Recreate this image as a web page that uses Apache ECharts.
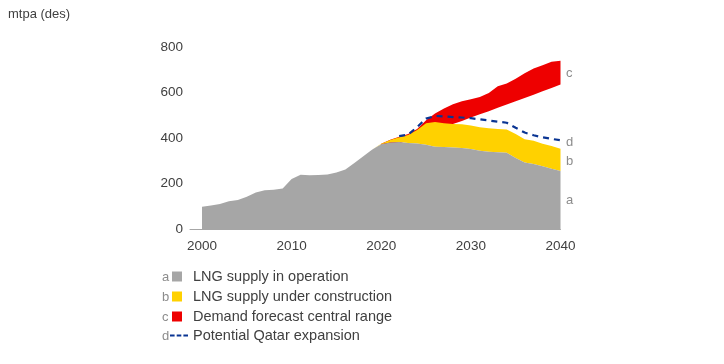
<!DOCTYPE html>
<html>
<head>
<meta charset="utf-8">
<script src="https://cdn.jsdelivr.net/npm/echarts@6/dist/echarts.min.js"></script>
<style>html,body{margin:0;padding:0;background:#fff;}#c{width:724px;height:364px;}</style>
</head>
<body>
<div id="c"></div>
<script>
// ---- data ----
var years = [];
for (var yr = 2000; yr <= 2040; yr++) years.push(yr);

// LNG supply in operation (2000..2040)
var supplyOperation = [98,103,110,122,127,142,160,170,172,178,
                       220,238,236,237,240,248,262,290,320,350,
                       372,380,382,378,376,370,362,360,358,356,
                       352,344,340,337,335,312,292,286,276,265,255];
// LNG supply under construction (increment on top of operation, 2019..2040)
var constructionYears = [2019,2020,2021,2022,2023,2024,2025,2026,2027,2028,2029,
                         2030,2031,2032,2033,2034,2035,2036,2037,2038,2039,2040];
var supplyConstruction = [0,3,11,21,35,59,95,108,105,103,104,
                          103,103,103,103,102,106,102,102,99,100,98];
// Demand forecast central range (2020..2040)
var demandYears = [2020,2021,2022,2023,2024,2025,2026,2027,2028,2029,2030,
                   2031,2032,2033,2034,2035,2036,2037,2038,2039,2040];
var demandLow  = [350,362,376,390,405,418,432,446,461,475,490,
                  504,518,533,547,562,576,590,605,620,635];
var demandHigh = [375,392,405,418,440,478,508,530,548,562,570,
                  580,598,628,640,660,685,705,720,735,740];
// Potential Qatar expansion (2022..2040)
var qatarYears = [2022,2023,2024,2025,2026,2027,2028,2029,2030,2031,
                  2032,2033,2034,2035,2036,2037,2038,2039,2040];
var qatar = [408,415,448,485,497,495,492,490,487,482,
             477,472,467,445,424,412,403,396,390];

var xTicks = [2000,2010,2020,2030,2040];
var yTicks = [0,200,400,600,800];

var seriesNames = ['LNG supply in operation','LNG supply under construction',
                   'Demand forecast central range','Potential Qatar expansion'];
var letters = ['a','b','c','d'];

// ---- build ----
function pairs(xs, ys){ return xs.map(function(x,i){ return [x, ys[i]]; }); }
// value-first pairs so that stacking applies to the y dimension
function vpairs(xs, ys){ return xs.map(function(x,i){ return [ys[i], x]; }); }
var supplyBase = constructionYears.map(function(y){ return supplyOperation[years.indexOf(y)]; });
var demandDiff = demandHigh.map(function(v,i){ return v - demandLow[i]; });

var GREY = '#a6a6a6', YELLOW = '#ffd100', RED = '#ee0000', NAVY = '#0a3593';
var TXT = '#404040', LET = '#8c8c8c';
var FONT = 'Liberation Sans, Arial, sans-serif';

var chart = echarts.init(document.getElementById('c'), null, {renderer:'canvas'});

function sqLegend(name, top){
  return {
    data:[{name:name, icon:'rect'}],
    left:172, top:top, orient:'vertical', padding:0,
    itemWidth:10, itemHeight:10, selectedMode:false,
    formatter:'{t|{name}}',
    textStyle:{color:TXT, fontSize:14.5, fontFamily:FONT,
      rich:{t:{color:TXT, fontSize:14.5, fontFamily:FONT, padding:[0,0,0,6]}}}
  };
}

function band(name, stack, xs, ys, color, z){
  var s = {
    name:name, type:'line', stack:stack, z:z,
    data:vpairs(xs, ys), encode:{x:1, y:0},
    symbol:'none', lineStyle:{width:0}, silent:true
  };
  if (color) { s.itemStyle = {color:color}; s.areaStyle = {color:color, opacity:1}; }
  return s;
}

var option = {
  animation:false,
  backgroundColor:'#fff',
  title:{text:'mtpa (des)', left:8, top:8, padding:0,
    textStyle:{fontSize:13, fontWeight:'normal', color:TXT, fontFamily:FONT}},
  grid:{left:190, right:163.5, top:47, bottom:135, containLabel:false},
  legend:[
    sqLegend(seriesNames[0], 269),
    sqLegend(seriesNames[1], 289),
    sqLegend(seriesNames[2], 309),
    {
      data:[{name:seriesNames[3], icon:'path://M0,4h4.6v2.2h-4.6z M6.7,4h4.6v2.2h-4.6z M13.4,4h4.6v2.2h-4.6z'}],
      left:170, top:328, padding:0, itemWidth:18, itemHeight:10, selectedMode:false,
      itemStyle:{color:NAVY},
      textStyle:{color:TXT, fontSize:14.5, fontFamily:FONT}
    }
  ],
  xAxis:{
    type:'value', min:1998.66, max:2040,
    splitLine:{show:false},
    axisLine:{show:true, lineStyle:{color:GREY, width:1}},
    axisTick:{show:false},
    axisLabel:{customValues:xTicks, color:TXT, fontSize:13.5, fontFamily:FONT, margin:10,
      formatter:function(v){ return String(v); }}
  },
  yAxis:{
    type:'value', min:0, max:800, interval:200,
    splitLine:{show:false},
    axisLine:{show:false}, axisTick:{show:false},
    axisLabel:{color:TXT, fontSize:13.5, fontFamily:FONT, margin:7}
  },
  series:[
    // demand band: stacked low (invisible) + range (red)
    band('demandLow', 'demand', demandYears, demandLow, null, 1),
    band(seriesNames[2], 'demand', demandYears, demandDiff, RED, 1),
    // supply under construction: stacked on operation from 2019
    band('supplyBase', 'supply', constructionYears, supplyBase, null, 2),
    band(seriesNames[1], 'supply', constructionYears, supplyConstruction, YELLOW, 2),
    // supply in operation
    {
      name:seriesNames[0], type:'line', z:2.5, data:pairs(years, supplyOperation),
      symbol:'none', itemStyle:{color:GREY}, lineStyle:{width:0},
      areaStyle:{color:GREY, opacity:1}, silent:true
    },
    {
      name:seriesNames[3], type:'line', z:5,
      data:pairs(qatarYears, qatar), symbol:'none',
      itemStyle:{color:NAVY},
      lineStyle:{color:NAVY, width:2.2, type:[6,5]}
    }
  ],
  graphic:[
    // legend letters
    {type:'text', left:162, top:271, style:{text:letters[0], fill:LET, font:'13px '+FONT}},
    {type:'text', left:162, top:291, style:{text:letters[1], fill:LET, font:'13px '+FONT}},
    {type:'text', left:162, top:311, style:{text:letters[2], fill:LET, font:'13px '+FONT}},
    {type:'text', left:162, top:330, style:{text:letters[3], fill:LET, font:'13px '+FONT}},
    // right-hand series letters
    {type:'text', left:566, top:67, style:{text:letters[2], fill:LET, font:'13px '+FONT}},
    {type:'text', left:566, top:136, style:{text:letters[3], fill:LET, font:'13px '+FONT}},
    {type:'text', left:566, top:155, style:{text:letters[1], fill:LET, font:'13px '+FONT}},
    {type:'text', left:566, top:194, style:{text:letters[0], fill:LET, font:'13px '+FONT}}
  ]
};
chart.setOption(option);
</script>
</body>
</html>
